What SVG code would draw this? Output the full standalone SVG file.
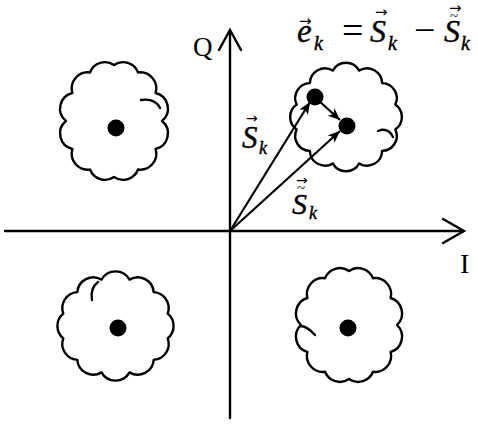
<svg xmlns="http://www.w3.org/2000/svg" width="478" height="426" viewBox="0 0 478 426">
<style>
.cloud{fill:#fff;stroke:#000;stroke-width:2.4;stroke-linejoin:round}
.curl{fill:none;stroke:#000;stroke-width:2.4;stroke-linecap:round}
.axis{fill:none;stroke:#000;stroke-width:2.4;stroke-linecap:round}
.vec{fill:none;stroke:#000;stroke-width:2.2}
.t{font-family:"Liberation Serif","Times New Roman",serif;fill:#000}
.m{font-family:"Liberation Serif","Times New Roman",serif;font-style:italic;fill:#000;stroke:#000;stroke-width:0.4}
.acc{font-family:"DejaVu Sans",sans-serif;fill:#000}
</style>
<defs>
<marker id="ah" markerUnits="userSpaceOnUse" markerWidth="14" markerHeight="12" refX="12" refY="5" orient="auto">
<path d="M0,0 L12,5 L0,10 L3,5 Z" fill="#000"/>
</marker>
</defs>
<rect width="478" height="426" fill="#fff"/>
<g id="axes">
<path class="axis" d="M5,231 H463"/>
<path class="axis" d="M443,219 L464,231 L443,243"/>
<path class="axis" d="M230,418 V31"/>
<path class="axis" d="M219,50 L230,30 L241,50"/>
<text class="t" x="193" y="56" font-size="27">Q</text>
<text class="t" x="460" y="273" font-size="28">I</text>
</g>
<g id="cloud-tl">
<path class="cloud" d="M162,121 A16,16 0 0 1 155.6,149 A16,16 0 0 1 138,169.5 A16,16 0 0 1 114,177 A16,16 0 0 1 90,169.5 A16,16 0 0 1 72.4,149 A16,16 0 0 1 66,121 A16,16 0 0 1 72.4,93 A16,16 0 0 1 90,72.5 A16,16 0 0 1 114,65 A16,16 0 0 1 138,72.5 A16,16 0 0 1 155.6,93 A16,16 0 0 1 162,121 Z"/>
<path class="curl" d="M141,100 Q155,98 160,108"/>
<circle cx="116" cy="128" r="8.5"/>
</g>
<g id="cloud-bl">
<path class="cloud" d="M167.7,338.4 A16,16 0 0 1 153.7,359.9 A16,16 0 0 1 129.5,372.4 A16,16 0 0 1 101.5,372.4 A16,16 0 0 1 77.3,359.9 A16,16 0 0 1 63.3,338.4 A16,16 0 0 1 63.3,313.6 A16,16 0 0 1 77.3,292.1 A16,16 0 0 1 101.5,279.6 A16,16 0 0 1 129.5,279.6 A16,16 0 0 1 153.7,292.1 A16,16 0 0 1 167.7,313.6 A16,16 0 0 1 167.7,338.4 Z"/>
<path class="curl" d="M92,300 Q90,288 98,282"/>
<circle cx="118" cy="328" r="8.5"/>
</g>
<g id="cloud-br">
<path class="cloud" d="M397,325 A16,16 0 0 1 390.6,352 A16,16 0 0 1 373,371.8 A16,16 0 0 1 349,379 A16,16 0 0 1 325,371.8 A16,16 0 0 1 307.4,352 A16,16 0 0 1 301,325 A16,16 0 0 1 307.4,298 A16,16 0 0 1 325,278.2 A16,16 0 0 1 349,271 A16,16 0 0 1 373,278.2 A16,16 0 0 1 390.6,298 A16,16 0 0 1 397,325 Z"/>
<path class="curl" d="M315,335 Q307,326 300,326"/>
<circle cx="348" cy="328" r="8.5"/>
</g>
<g id="cloud-tr">
<path class="cloud" d="M395.3,129.4 A15,15 0 0 1 382.1,150.9 A15,15 0 0 1 359.2,163.4 A15,15 0 0 1 332.8,163.4 A15,15 0 0 1 309.9,150.9 A15,15 0 0 1 296.7,129.4 A15,15 0 0 1 296.7,104.6 A15,15 0 0 1 309.9,83.1 A15,15 0 0 1 332.8,70.6 A15,15 0 0 1 359.2,70.6 A15,15 0 0 1 382.1,83.1 A15,15 0 0 1 395.3,104.6 A15,15 0 0 1 395.3,129.4 Z"/>
<path class="curl" d="M378,131 Q388,127 393,137"/>
<circle cx="315" cy="97" r="8.5"/>
<circle cx="347" cy="126" r="8.5"/>
</g>
<g id="connectors">
<line class="vec" x1="230" y1="231" x2="310" y2="102" marker-end="url(#ah)"/>
<line class="vec" x1="230" y1="231" x2="340" y2="131" marker-end="url(#ah)"/>
<line class="vec" x1="318" y1="100" x2="340" y2="120" marker-end="url(#ah)"/>
</g>
<g id="labels">
<text class="m" x="297" y="42" font-size="33">e</text>
<text class="acc" x="299" y="26" font-size="15">→</text>
<text class="m" x="314" y="50" font-size="20">k</text>
<text class="t" x="342" y="43" font-size="38">=</text>
<text class="m" x="370" y="42" font-size="32">S</text>
<text class="acc" x="375" y="17" font-size="15">→</text>
<text class="m" x="388" y="50" font-size="20">k</text>
<text class="t" x="414" y="43" font-size="38">−</text>
<text class="m" x="444" y="42" font-size="32">S</text>
<text class="t" x="450" y="21" font-size="15">~</text>
<text class="acc" x="449" y="13" font-size="15">→</text>
<text class="m" x="461" y="50" font-size="20">k</text>
<text class="m" x="242" y="148" font-size="31">S</text>
<text class="acc" x="246" y="123" font-size="14">→</text>
<text class="m" x="259" y="154" font-size="18">k</text>
<text class="m" x="292" y="214" font-size="30">S</text>
<text class="t" x="297" y="193" font-size="15">~</text>
<text class="acc" x="296" y="185" font-size="14">→</text>
<text class="m" x="309" y="219" font-size="18">k</text>
</g>
</svg>
